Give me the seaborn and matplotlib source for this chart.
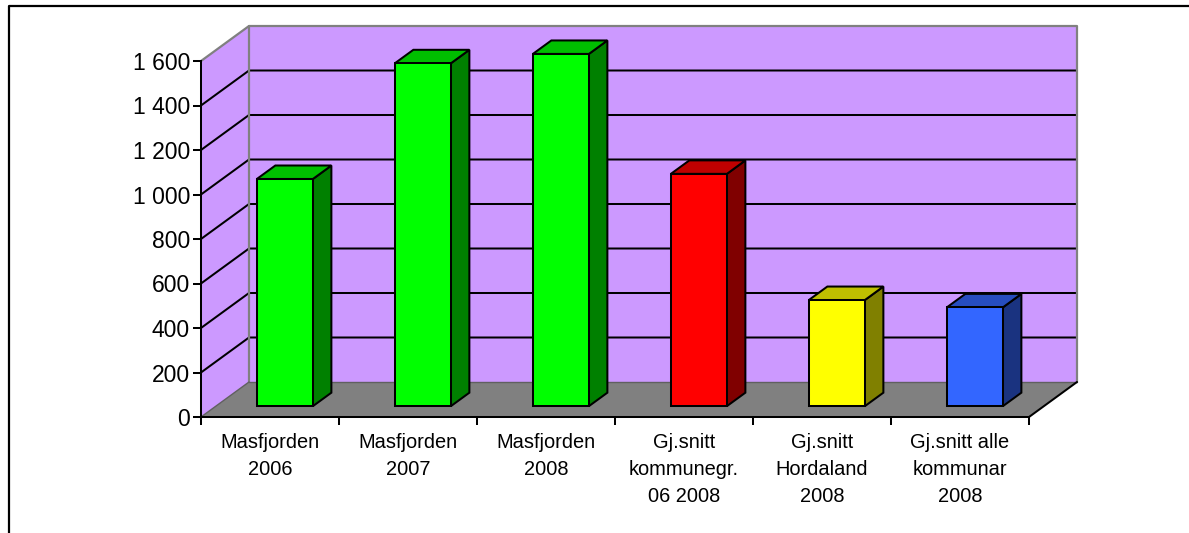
import numpy as np
import seaborn as sns
import matplotlib.pyplot as plt
from matplotlib.colors import to_rgb
from matplotlib.lines import Line2D
from matplotlib.patches import Polygon
from matplotlib.transforms import Affine2D

# data
categories = ['Masfjorden\n2006', 'Masfjorden\n2007', 'Masfjorden\n2008',
              'Gj.snitt\nkommunegr.\n06 2008', 'Gj.snitt\nHordaland\n2008',
              'Gj.snitt alle\nkommunar\n2008']
values = [1021, 1541, 1583, 1044, 477, 444]
bar_colors = ['#00FF00', '#00FF00', '#00FF00', '#FF0000', '#FFFF00', '#3366FF']
y_ticks = [0, 200, 400, 600, 800, 1000, 1200, 1400, 1600]
y_labels = ['0', '200', '400', '600', '800', '1 000', '1 200', '1 400', '1 600']

W, H = 1189, 533
LW = 1.45
sns.set_style('white')
plt.rcParams['font.family'] = ['Liberation Sans', 'DejaVu Sans']

fig = plt.figure(figsize=(W / 100, H / 100), dpi=100)
ax = fig.add_axes([201 / W, (H - 417) / H, 828 / W, 356 / H])
ax.patch.set_alpha(0)

#bars
sns.barplot(x=categories, y=values, hue=categories, palette=bar_colors, saturation=1,
            width=0.406, edgecolor='black', linewidth=LW, legend=False, ax=ax, zorder=3)
ax.set_xlim(-0.5, 5.5)
ax.set_ylim(0, 1600)

# depth of the box in data units (48 px across, 35 px up)
dx = 48 * 6 / 828
dy = 35 * 1600 / 356
x0, x1 = -0.5, 5.5
top = y_ticks[-1]
wall = '#CC99FF'
grey = '#808080'


def poly(points, face, edge='none', lw=1.0, z=1):
    ax.add_patch(Polygon(points, closed=True, facecolor=face, edgecolor=edge, linewidth=lw,
                         zorder=z, clip_on=False))


def line(xs, ys, color='black', lw=LW, z=1.5):
    ax.add_line(Line2D(xs, ys, color=color, linewidth=lw, zorder=z, clip_on=False))


#walls and floor
poly([(x0 + dx, dy), (x1 + dx, dy), (x1 + dx, top + dy), (x0 + dx, top + dy)], wall)
poly([(x0, 0), (x0 + dx, dy), (x0 + dx, top + dy), (x0, top)], wall)
poly([(x0, 0), (x1, 0), (x1 + dx, dy), (x0 + dx, dy)], grey, z=1.2)

#gridlines, back wall and left wall
for t in y_ticks[1:-1]:
    line([x0, x0 + dx, x1 + dx], [t, t + dy, t + dy])

#wall outline
line([x0, x0 + dx, x1 + dx, x1 + dx], [top, top + dy, top + dy, dy], color=grey, lw=1.6, z=1.6)
line([x0 + dx, x0 + dx], [dy, top + dy], color=grey, lw=1.6, z=1.6)
line([x0, x0 + dx], [0, dy], color='#606060', lw=1.0, z=1.6)
line([x0 + dx, x1 + dx], [dy, dy], color='#606060', lw=1.0, z=1.6)
line([x1, x1 + dx], [0, dy], z=1.6)

# bars stand part way into the box, side and top faces come from the bar patches
near = 0.31
deep = 0.385
shift = Affine2D().translate(near * dx, near * dy) + ax.transData
for patch, color in zip(ax.patches[:len(values)], bar_colors):
    xa = patch.get_x()
    xb = xa + patch.get_width()
    h = patch.get_height()
    patch.set_transform(shift)
    patch.set_clip_on(False)
    rgb = np.array(to_rgb(color))
    ox, oy = deep * dx, deep * dy
    for pts, shade in [([(xb, 0), (xb + ox, oy), (xb + ox, h + oy), (xb, h)], 0.5),
                       ([(xa, h), (xb, h), (xb + ox, h + oy), (xa + ox, h + oy)], 0.75)]:
        face = Polygon(pts, closed=True, facecolor=tuple(rgb * shade), edgecolor='black',
                       linewidth=LW, zorder=2.9, clip_on=False, joinstyle='miter')
        ax.add_patch(face)
        face.set_transform(shift)

#axes and ticks
for side in ['top', 'right']:
    ax.spines[side].set_visible(False)
for side in ['left', 'bottom']:
    ax.spines[side].set_visible(True)
    ax.spines[side].set_color('black')
    ax.spines[side].set_linewidth(LW)
    ax.spines[side].set_zorder(4)

ax.set_yticks(y_ticks)
ax.set_yticklabels(y_labels, fontsize=16.5, color='black')
ax.set_xticks(range(len(categories)))
ax.set_xticklabels(categories, fontsize=14.4, color='black', linespacing=1.55)
ax.set_xticks(np.arange(x0, x1 + 1), minor=True)
ax.tick_params(axis='x', which='major', length=0, pad=11.5)
ax.tick_params(axis='x', which='minor', direction='out', length=5.5, width=LW, color='black', bottom=True)
ax.tick_params(axis='y', which='major', direction='out', length=5.5, width=LW, color='black', left=True, pad=2.5)
ax.set_xlabel('')
ax.set_ylabel('')

# outer chart frame, right and bottom fall outside the picture
fig.add_artist(Line2D([8.5 / W, 8.5 / W, 1], [0, (H - 5.5) / H, (H - 5.5) / H], color='black', linewidth=1.6))

fig.savefig('out.png', dpi=100)
